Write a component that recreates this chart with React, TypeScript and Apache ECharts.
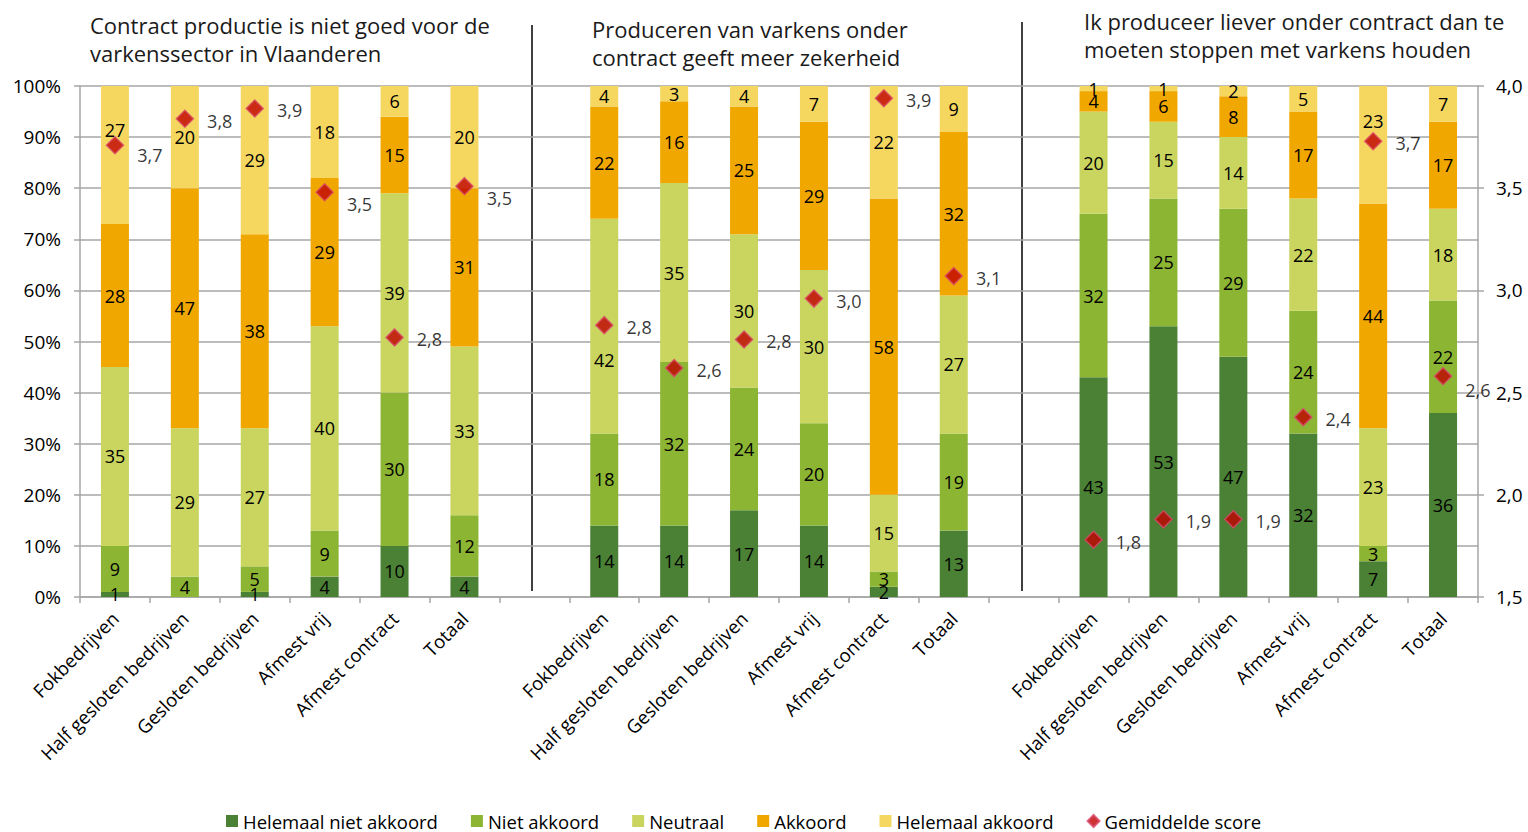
import React, { useEffect, useRef } from "react";
import * as echarts from "echarts";

// Categories per statement group
const groupCategories = [
  "Fokbedrijven",
  "Half gesloten bedrijven",
  "Gesloten bedrijven",
  "Afmest vrij",
  "Afmest contract",
  "Totaal",
];

const statements = [
  "Contract productie is niet goed voor de\nvarkenssector in Vlaanderen",
  "Produceren van varkens onder\ncontract geeft meer zekerheid",
  "Ik produceer liever onder contract dan te\nmoeten stoppen met varkens houden",
];

const levelNames = [
  "Helemaal niet akkoord",
  "Niet akkoord",
  "Neutraal",
  "Akkoord",
  "Helemaal akkoord",
];
const scoreName = "Gemiddelde score";

// Percentages per answer level (group 1, group 2, group 3, 6 categories each)
const helemaalNietAkkoord = [1, 0, 1, 4, 10, 4, 14, 14, 17, 14, 2, 13, 43, 53, 47, 32, 7, 36];
const nietAkkoord = [9, 4, 5, 9, 30, 12, 18, 32, 24, 20, 3, 19, 32, 25, 29, 24, 3, 22];
const neutraal = [35, 29, 27, 40, 39, 33, 42, 35, 30, 30, 15, 27, 20, 15, 14, 22, 23, 18];
const akkoord = [28, 47, 38, 29, 15, 31, 22, 16, 25, 29, 58, 32, 4, 6, 8, 17, 44, 17];
const helemaalAkkoord = [27, 20, 29, 18, 6, 20, 4, 3, 4, 7, 22, 9, 1, 1, 2, 5, 23, 7];

// Average score (right axis)
const gemiddeldeScore = [3.71, 3.84, 3.89, 3.48, 2.77, 3.51, 2.83, 2.62, 2.76, 2.96, 3.94, 3.07, 1.78, 1.88, 1.88, 2.38, 3.73, 2.58];

// Axis ticks
const leftTicks = { min: 0, max: 100, interval: 10 };
const rightTicks = { min: 1.5, max: 4.0, interval: 0.5 };

const colors = ["#4A8135", "#8DB534", "#C9D55E", "#F0A800", "#F5D760"];
const FONT = "'Open Sans', 'DejaVu Sans', sans-serif";

// Label nudges (style only), keyed by data index in the 18-item arrays
const scoreLabelShiftY: Record<number, number> = { 0: 10, 3: 12, 5: 12, 17: 14 };
const segmentLabelShiftY: Record<string, number> = { "4-0": -25, "2-6": 34, "4-16": -24 };

// Insert an empty category between groups
function withGaps<T>(arr: T[], gap: T): T[] {
  const out: T[] = [];
  for (let g = 0; g < 3; g++) {
    if (g > 0) out.push(gap);
    for (let i = 0; i < 6; i++) out.push(arr[g * 6 + i]);
  }
  return out;
}

export default function App() {
  const ref = useRef<HTMLDivElement>(null);

  useEffect(() => {
    if (!ref.current) return;
    const chart = echarts.init(ref.current, undefined, { renderer: "svg" });

    const cats: string[] = [];
    for (let g = 0; g < 3; g++) {
      if (g > 0) cats.push("");
      groupCategories.forEach((c) => cats.push(c));
    }

    const levels = [helemaalNietAkkoord, nietAkkoord, neutraal, akkoord, helemaalAkkoord];

    const barSeries = levels.map((vals, li) => ({
      name: levelNames[li],
      type: "bar",
      stack: "total",
      yAxisIndex: 0,
      barWidth: 28,
      data: withGaps<any>(
        vals.map((v, idx) => {
          const shift = segmentLabelShiftY[`${li}-${idx}`];
          return shift ? { value: v, label: { offset: [0, shift] } } : v;
        }),
        null
      ),
      itemStyle: { color: colors[li] },
      label: {
        show: true,
        position: "inside",
        fontSize: 18,
        fontFamily: FONT,
        color: "#000",
        formatter: (p: any) => (p.value ? String(p.value) : ""),
      },
    }));

    const scoreSeries = {
      name: scoreName,
      type: "scatter",
      yAxisIndex: 1,
      symbol: "diamond",
      symbolSize: 17,
      data: withGaps<any>(
        gemiddeldeScore.map((v, idx) => ({
          value: v,
          label: { offset: [0, scoreLabelShiftY[idx] ?? 2] },
        })),
        null
      ),
      itemStyle: { color: "#C00000", borderColor: "#D9476A", borderWidth: 1.5 },
      label: {
        show: true,
        position: "right",
        distance: 13,
        fontSize: 18,
        fontFamily: FONT,
        color: "#000",
        formatter: (p: any) => Number(p.value).toFixed(1).replace(".", ","),
      },
      z: 5,
    };

    const titleGraphics = statements.map((t, i) => ({
      type: "text",
      left: [90, 592, 1084][i],
      top: [11, 15, 7][i],
      style: {
        text: t,
        font: `22px ${FONT}`,
        fill: "#1a1a1a",
        lineHeight: 28,
      },
    }));

    const separators = [
      { x: 532, y1: 25 },
      { x: 1022, y1: 22 },
    ].map((s) => ({
      type: "line",
      shape: { x1: s.x, y1: s.y1, x2: s.x, y2: 591 },
      style: { stroke: "#000", lineWidth: 1.5 },
    }));

    const axisGray = "#A6A6A6";

    chart.setOption({
      animation: false,
      textStyle: { fontFamily: FONT },
      grid: { left: 80, right: 50, top: 86, bottom: 235 },
      legend: {
        top: 806,
        left: 221,
        itemWidth: 12,
        itemHeight: 12,
        itemGap: 33,
        textStyle: { fontSize: 18.5, lineHeight: 20, fontFamily: FONT, color: "#000" },
        data: [
          ...levelNames.map((n) => ({ name: n, icon: "rect" })),
          { name: scoreName, icon: "diamond" },
        ],
      },
      xAxis: {
        type: "category",
        data: cats,
        axisLine: { lineStyle: { color: axisGray, width: 1.5 } },
        axisTick: { show: true, length: 6, lineStyle: { color: axisGray, width: 1.5 } },
        axisLabel: {
          interval: 0,
          rotate: 45,
          fontSize: 18.6,
          fontFamily: FONT,
          color: "#000",
          margin: 18,
        },
      },
      yAxis: [
        {
          type: "value",
          min: leftTicks.min,
          max: leftTicks.max,
          interval: leftTicks.interval,
          position: "left",
          axisLine: { show: true, lineStyle: { color: axisGray, width: 1.5 } },
          axisTick: { show: true, length: 6, lineStyle: { color: axisGray, width: 1.5 } },
          splitLine: { show: true, lineStyle: { color: axisGray, width: 1.5 } },
          axisLabel: {
            formatter: "{value}%",
            fontSize: 19,
            fontFamily: FONT,
            color: "#000",
            margin: 19,
          },
        },
        {
          type: "value",
          min: rightTicks.min,
          max: rightTicks.max,
          interval: rightTicks.interval,
          position: "right",
          axisLine: { show: true, lineStyle: { color: axisGray, width: 1.5 } },
          axisTick: { show: true, length: 6, lineStyle: { color: axisGray, width: 1.5 } },
          splitLine: { show: false },
          axisLabel: {
            formatter: (v: number) => v.toFixed(1).replace(".", ","),
            fontSize: 19,
            fontFamily: FONT,
            color: "#000",
            margin: 18,
          },
        },
      ],
      graphic: [...titleGraphics, ...separators],
      series: [...barSeries, scoreSeries],
    });

    return () => chart.dispose();
  }, []);

  return (
    <div
      ref={ref}
      style={{ position: "absolute", left: 0, top: 0, width: 1528, height: 832 }}
    />
  );
}
